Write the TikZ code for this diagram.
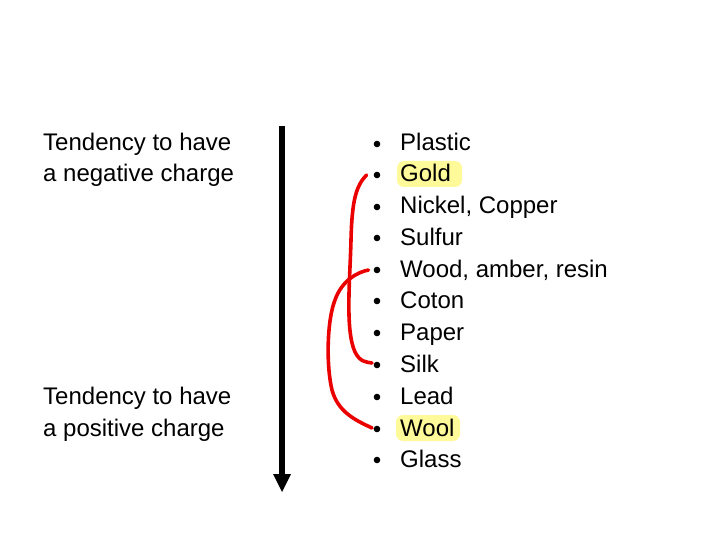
\documentclass[tikz,border=0pt]{standalone}
\usepackage{fontspec}
\setmainfont{Liberation Sans}
\begin{document}
\begin{tikzpicture}[x=1pt,y=-1pt,
  lbl/.style={anchor=base west,inner sep=0pt,font=\fontsize{24}{28}\selectfont},
  bul/.style={circle,fill=black,inner sep=0pt,minimum size=6.6pt},
  hl/.style={fill=yellow!40,rounded corners=7pt,draw=none},
  redline/.style={draw=red!92!black,line width=3.6pt,line cap=round,line join=round}]
\useasboundingbox (0,0) rectangle (720,540);
% highlights
\fill[hl] (397,161) rectangle (462,187);
\fill[hl] (396,415) rectangle (460,441);
% left labels
\node[lbl] (n1) at (43,151) {Tendency to have};
\node[lbl] (n2) at (43,182) {a negative charge};
\node[lbl] (p1) at (43,404) {Tendency to have};
\node[lbl] (p2) at (43,436) {a positive charge};
% arrow
\draw[line width=6pt] (282,126) coordinate (atop) -- (282,475) coordinate (abot);
\fill (273,474) -- (291,474) -- (282,492) -- cycle;
% items
\foreach \i/\t/\y in {1/Plastic/143,2/Gold/174,3/{Nickel, Copper}/206,4/Sulfur/237,5/{Wood, amber, resin}/269,6/Coton/300,7/Paper/332,8/Silk/364,9/Lead/396,10/Wool/428,11/Glass/459}{
  \node[bul] (b\i) at (377,\y+1) {};
  \node[lbl] (t\i) at (400,\y+8) {\t};
}
% red curves
\draw[redline] (b2.west) ++(-7,0) .. controls (356,186) and (352,200) .. (351,240)
  .. controls (350,280) and (345,330) .. (355,352)
  .. controls (360,362) and (366,362) .. (372,363);
\draw[redline] (b5.west) ++(-5,0) .. controls (358,272) and (342,280) .. (335,300)
  .. controls (327,320) and (326,365) .. (332,390)
  .. controls (338,412) and (355,420) .. (372,428);
\end{tikzpicture}
\end{document}
